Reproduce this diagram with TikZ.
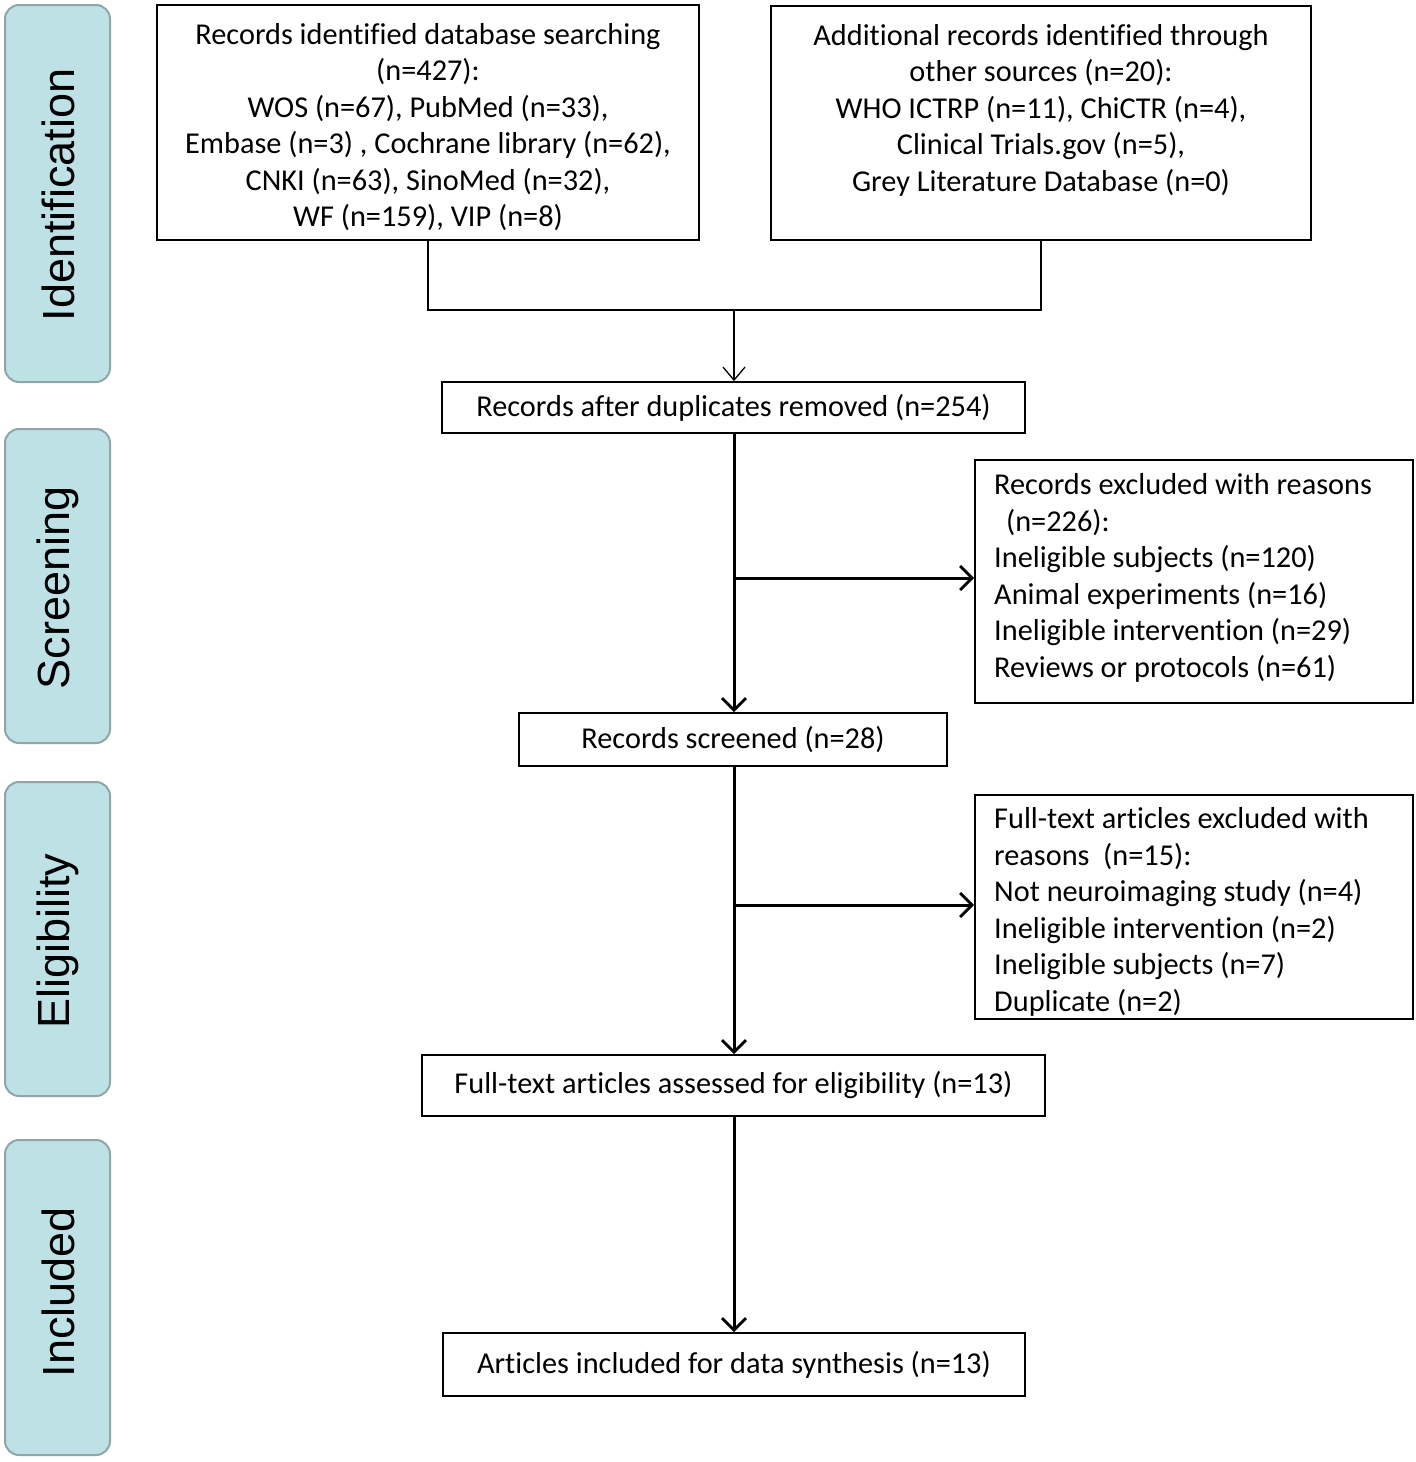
\documentclass[tikz,border=0pt]{standalone}
\usepackage{fontspec}
\setmainfont[Ligatures=NoCommon]{Carlito}
\newfontfamily\tabfont{Liberation Sans}
\usetikzlibrary{arrows.meta}
\definecolor{tabfill}{HTML}{BDE1E5}
\definecolor{tabedge}{HTML}{8EA6A6}
\tikzset{
  tabbox/.style={draw=tabedge, line width=2pt, fill=tabfill, rounded corners=14pt, minimum width=105pt, inner sep=0pt},
  tabtext/.style={rotate=90, font=\tabfont\fontsize{45}{50}\selectfont},
  flowbox/.style={draw, line width=1.8pt, inner sep=0pt, font=\fontsize{30.3}{36.5}\selectfont},
  boxtext/.style={inner sep=0pt, font=\fontsize{30.3}{36.5}\selectfont},
  thinline/.style={line width=1.3pt},
  thickline/.style={line width=3pt},
  thinarrow/.style={thinline, -{Straight Barb[length=13pt, width=22pt, line width=1.3pt]}},
  thickarrow/.style={thickline, -{Straight Barb[length=12pt, width=24pt, line width=2.8pt]}}
}
\begin{document}
\begin{tikzpicture}[x=1pt, y=-1pt]
\useasboundingbox (0,0) rectangle (1416,1462);
% side tabs
\node[tabbox, minimum height=377pt] (t1) at (57.5,193.5) {};
\node[tabtext] (t1l) at (58,195) {Identification};
\node[tabbox, minimum height=314pt] (t2) at (57.5,586) {};
\node[tabtext] (t2l) at (58,588) {Screening};
\node[tabbox, minimum height=314pt] (t3) at (57.5,939) {};
\node[tabtext] (t3l) at (58,941) {Eligibility};
\node[tabbox, minimum height=315pt] (t4) at (57.5,1297.5) {};
\node[tabtext] (t4l) at (58,1292) {Included};

% top boxes
\node[flowbox, minimum width=542pt, minimum height=235pt] (A) at (428,122.5) {};
\node[boxtext, align=center] (At) at (428,127) {Records identified database searching\\(n=427):\\WOS (n=67), PubMed (n=33),\\Embase (n=3) , Cochrane library (n=62),\\CNKI (n=63), SinoMed (n=32),\\WF (n=159), VIP (n=8)};
\node[flowbox, minimum width=540pt, minimum height=234pt] (B) at (1041,123) {};
\node[boxtext, align=center] (Bt) at (1041,110) {Additional records identified through\\other sources (n=20):\\WHO ICTRP (n=11), ChiCTR (n=4),\\Clinical Trials.gov (n=5),\\Grey Literature Database (n=0)};

\node[flowbox, minimum width=583pt, minimum height=51pt] (C) at (733.5,407.5) {Records after duplicates removed (n=254)};
\node[flowbox, minimum width=438pt, minimum height=243pt] (E) at (1194,581.5) {};
\node[boxtext, align=left, anchor=west] (Et) at (994,578) {Records excluded with reasons\\\ \,(n=226):\\Ineligible subjects (n=120)\\Animal experiments (n=16)\\Ineligible intervention (n=29)\\Reviews or protocols (n=61)};
\node[flowbox, minimum width=428pt, minimum height=53pt] (D) at (733,739.5) {Records screened (n=28)};
\node[flowbox, minimum width=438pt, minimum height=224pt] (F) at (1194,907) {};
\node[boxtext, align=left, anchor=west] (Ft) at (994,912) {Full-text articles excluded with\\reasons \ (n=15):\\Not neuroimaging study (n=4)\\Ineligible intervention (n=2)\\Ineligible subjects (n=7)\\Duplicate (n=2)};
\node[flowbox, minimum width=623pt, minimum height=61pt] (G) at (733.5,1085.5) {Full-text articles assessed for eligibility (n=13)};
\node[flowbox, minimum width=582pt, minimum height=63pt] (H) at (734,1364.5) {Articles included for data synthesis (n=13)};

% connectors
\coordinate (j) at (734,310);
\draw[thinline] (A.south) |- (j) -| (B.south);
\draw[thinarrow] (j) -- (C.north -| j);
\draw[thickarrow] (C.south -| j) -- (D.north -| j);
\coordinate (e1) at (734,578);
\draw[thickarrow] (e1) -- (E.west |- e1);
\draw[thickarrow] (D.south -| j) -- (G.north -| j);
\coordinate (f1) at (734,905);
\draw[thickarrow] (f1) -- (F.west |- f1);
\draw[thickarrow] (G.south -| j) -- (H.north -| j);
\end{tikzpicture}
\end{document}
